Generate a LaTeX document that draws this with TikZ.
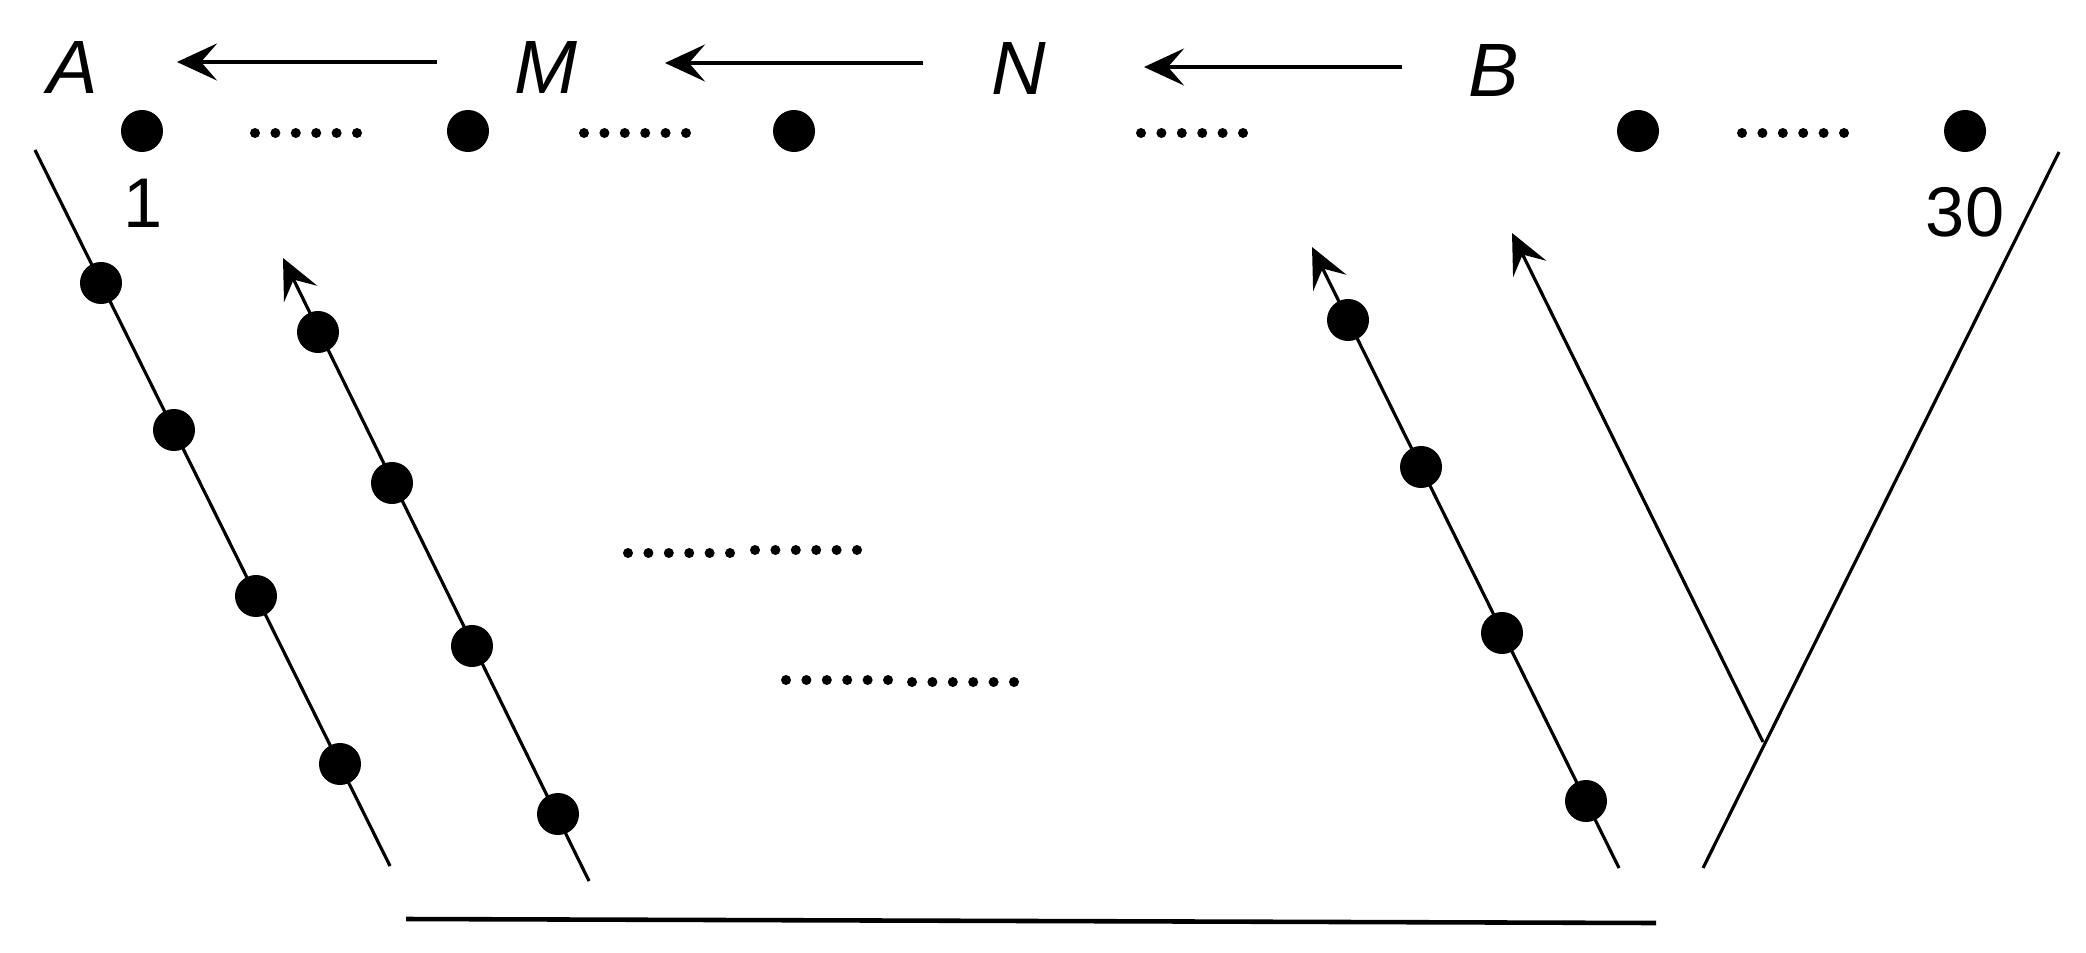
\documentclass[tikz,border=0pt]{standalone}
\usepackage{fontspec}
\setmainfont{Liberation Sans}
\usetikzlibrary{arrows.meta,positioning}
\tikzset{
	>={Stealth[length=4mm,width=3.7mm,inset=1.6mm]},
	site/.style={circle, fill=black, inner sep=0pt, minimum size=4.2mm},
	tiny/.style={circle, fill=black, inner sep=0pt, minimum size=1mm},
	lbl/.style={font=\fontsize{21.5}{26}\selectfont\itshape},
	num/.style={font=\fontsize{20}{24}\selectfont},
	chain/.style={line width=0.9pt},
}
% a row of six small dots: x, y, name
\newcommand{\dotrow}[3]{\foreach \k in {0,...,5} \node[tiny] (#3\k) at (#1+20.4*\k,#2) {};}

\begin{document}
\begin{tikzpicture}[x=0.01cm, y=-0.01cm]
	\useasboundingbox (0,0) rectangle (2086,952);

	% top row
	\node[lbl] (A) at (73,67) {A};
	\node[lbl] (M) at (546,67) {M};
	\node[lbl] (N) at (1019,68) {N};
	\node[lbl] (B) at (1494,70) {B};
	\coordinate (a0) at (437,62);  \coordinate (a1) at (177,62);
	\coordinate (m0) at (923,63);  \coordinate (m1) at (665,63);
	\coordinate (n0) at (1402,67); \coordinate (n1) at (1144,67);
	\draw[->, line width=1.1pt] (a0) -- (a1);
	\draw[->, line width=1.1pt] (m0) -- (m1);
	\draw[->, line width=1.1pt] (n0) -- (n1);

	\node[site] (s1) at (142,131) {};
	\node[site] (s2) at (468,131) {};
	\node[site] (s3) at (794,131) {};
	\node[site] (s4) at (1638,131) {};
	\node[site] (s30) at (1965,131) {};
	\node[num] (one) at (143,203) {1};
	\node[num] (thirty) at (1965,212) {30};
	\dotrow{255}{133}{ta}
	\dotrow{584}{133}{tb}
	\dotrow{1141}{133}{tc}
	\dotrow{1742}{133}{td}

	% chains
	\coordinate (p0) at (35,150);   \coordinate (p1) at (390,866);
	\coordinate (q0) at (589,881);  \coordinate (q1) at (283,258);
	\coordinate (r0) at (1619,868); \coordinate (r1) at (1312,247);
	\coordinate (j) at (1763,742);  \coordinate (j1) at (1512,233);
	\coordinate (v0) at (2059,152); \coordinate (v1) at (1703,868);
	\draw[chain] (p0) -- (p1);
	\draw[chain, ->] (q0) -- (q1);
	\draw[chain, ->] (r0) -- (r1);
	\draw[chain, ->] (j) -- (j1);
	\draw[chain] (v0) -- (v1);

	\node[site] (p2) at (101,283) {};
	\node[site] (p3) at (174,430) {};
	\node[site] (p4) at (256,596) {};
	\node[site] (p5) at (340,764) {};
	\node[site] (q2) at (318,332) {};
	\node[site] (q3) at (392,483) {};
	\node[site] (q4) at (472,646) {};
	\node[site] (q5) at (558,814) {};
	\node[site] (r2) at (1348,320) {};
	\node[site] (r3) at (1421,467) {};
	\node[site] (r4) at (1502,633) {};
	\node[site] (r5) at (1586,801) {};

	% middle
	\dotrow{628}{553}{ma}
	\dotrow{755}{550}{mb}
	\dotrow{786}{680}{mc}
	\dotrow{912}{682}{md}

	% base
	\coordinate (g0) at (406,919); \coordinate (g1) at (1656,923);
	\draw[line width=1.3pt] (g0) -- (g1);
\end{tikzpicture}
\end{document}
